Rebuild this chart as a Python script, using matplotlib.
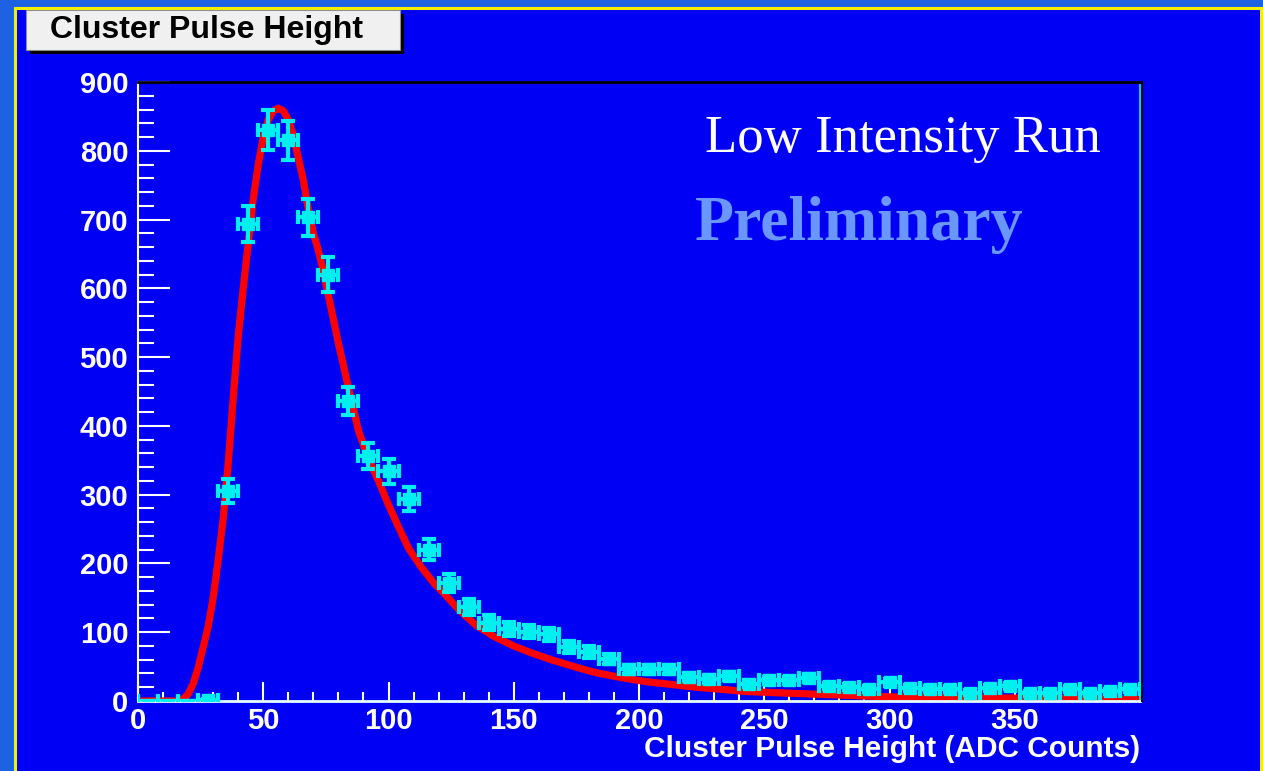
import numpy as np
import matplotlib
matplotlib.use('Agg')
import matplotlib.pyplot as plt
from matplotlib.patches import Rectangle
from matplotlib.lines import Line2D

plt.rcParams['font.family'] = ['Liberation Sans', 'DejaVu Sans']

# ---------------- histogram data (bin width 8 ADC counts) ----------------
bin_centers = [4, 12, 20, 28, 36, 44, 52, 60, 68, 76, 84, 92, 100, 108, 116, 124,
               132, 140, 148, 156, 164, 172, 180, 188, 196, 204, 212, 220, 228,
               236, 244, 252, 260, 268, 276, 284, 292, 300, 308, 316, 324, 332,
               340, 348, 356, 364, 372, 380, 388, 396]
counts = [0, 0, 0, 2, 305, 693, 830, 815, 703, 620, 436, 356, 334, 294, 220, 171,
          136, 114, 104, 101, 97, 78, 71, 61, 46, 46, 46, 35, 32,
          36, 25, 30, 30, 33, 22, 20, 17, 27, 19, 17, 17, 12,
          19, 22, 11, 12, 17, 11, 14, 17]
bin_half = 4

# ---------------- fitted curve ----------------
fit_x = [0, 16, 18, 20, 22, 24, 26, 28, 30, 32, 34, 36, 38, 40, 42, 44, 46, 48,
         50, 52, 54, 56, 58, 60, 62, 64, 66, 68, 70, 72, 74, 76, 78, 80, 82, 84,
         86, 88, 92, 96, 100, 104, 108, 113, 118, 122, 128, 135, 142, 150, 157,
         165, 175, 183, 193, 203, 213, 223, 233, 242, 255, 270, 285, 300, 320,
         340, 360, 380, 400]
fit_y = [0, 0, 3, 10, 25, 48, 78, 108, 150, 205, 265, 345, 440, 530, 600, 665,
         730, 780, 820, 845, 858, 862, 858, 845, 822, 790, 757, 715, 680, 655,
         625, 590, 555, 520, 488, 455, 425, 393, 352, 320, 285, 253, 222, 195,
         172, 157, 133, 110, 94, 80, 70, 60, 49, 41, 34, 28, 24, 20, 17, 14, 12,
         10, 8, 6, 5, 4.5, 4, 3, 2.5]

W, H = 1263, 771
fig = plt.figure(figsize=(W / 100, H / 100), dpi=100)
fig.patch.set_facecolor('#1e62e4')

# canvas panel with yellow frame
fig.patches.append(Rectangle((14.5 / W, -0.05), (1261 - 14.5) / W, 1.05 - 8 / H,
                             transform=fig.transFigure, facecolor='#0000f4',
                             edgecolor='#f0f000', lw=2.2, zorder=-1))

ax = fig.add_axes([138 / W, 1 - 701 / H, (1140 - 138) / W, (701 - 82) / H])
ax.set_zorder(2)
ax.set_facecolor('#0000f4')

ax.plot(fit_x, fit_y, color='#ff0000', lw=5.2, solid_capstyle='butt', zorder=2)

cts = np.array(counts, dtype=float)
ax.errorbar(bin_centers, cts, xerr=bin_half, yerr=np.sqrt(cts), fmt='none',
            ecolor='#00f0f0', elinewidth=3, capsize=5, capthick=3, zorder=3)
nz = cts > 0
ax.plot(np.array(bin_centers)[nz], cts[nz], 's', color='#00f0f0', ms=9, zorder=4)

ax.set_xlim(0, 400)
ax.set_ylim(0, 900)
ax.set_xticks(range(0, 400, 50))
ax.set_xticks(range(0, 401, 10), minor=True)
ax.set_yticks(range(0, 901, 100))
ax.set_yticks(range(0, 901, 20), minor=True)

ax.tick_params(axis='both', which='both', direction='in', colors='white',
               labelsize=21, width=1.5)
ax.tick_params(axis='x', which='major', length=13.5, pad=4)
ax.tick_params(axis='x', which='minor', length=6.5)
ax.tick_params(axis='y', which='major', length=23, pad=7)
ax.tick_params(axis='y', which='minor', length=11.5)
for lab in ax.get_xticklabels() + ax.get_yticklabels():
    lab.set_fontweight('bold')

ax.spines['left'].set_color('white')
ax.spines['left'].set_linewidth(1.5)
ax.spines['bottom'].set_color('#e6ffff')
ax.spines['bottom'].set_linewidth(2)
ax.spines['top'].set_color('black')
ax.spines['top'].set_linewidth(2)
ax.spines['right'].set_color('#00e0e0')
ax.spines['right'].set_linewidth(2)
fig.lines.append(Line2D([1142 / W, 1142 / W], [1 - 701 / H, 1 - 82 / H],
                        transform=fig.transFigure, color='black', lw=1.5))

ax.set_xlabel('Cluster Pulse Height (ADC Counts)', loc='right', color='white',
              fontsize=21.5, fontweight='bold', labelpad=0)

# title box in ROOT style
fig.patches.append(Rectangle((30 / W, 1 - 54 / H), 374 / W, 40 / H,
                             transform=fig.transFigure, facecolor='black',
                             edgecolor='none', zorder=5))
fig.patches.append(Rectangle((26 / W, 1 - 50 / H), 374 / W, 40 / H,
                             transform=fig.transFigure, facecolor='#f0f0f0',
                             edgecolor='#909090', lw=0.8, zorder=6))
fig.text(50 / W, 1 - 30 / H, 'Cluster Pulse Height', fontsize=23,
         fontweight='bold', color='black', va='center', ha='left', zorder=7)

fig.text(705 / W, 1 - 152 / H, 'Low Intensity Run', family='Liberation Serif',
         fontsize=38, color='white', ha='left', va='baseline')
fig.text(695 / W, 1 - 240 / H, 'Preliminary', family='Liberation Serif',
         fontsize=46, fontweight='bold', color='#6a96ff', ha='left',
         va='baseline')

fig.savefig('out.png', dpi=100, facecolor=fig.get_facecolor())
